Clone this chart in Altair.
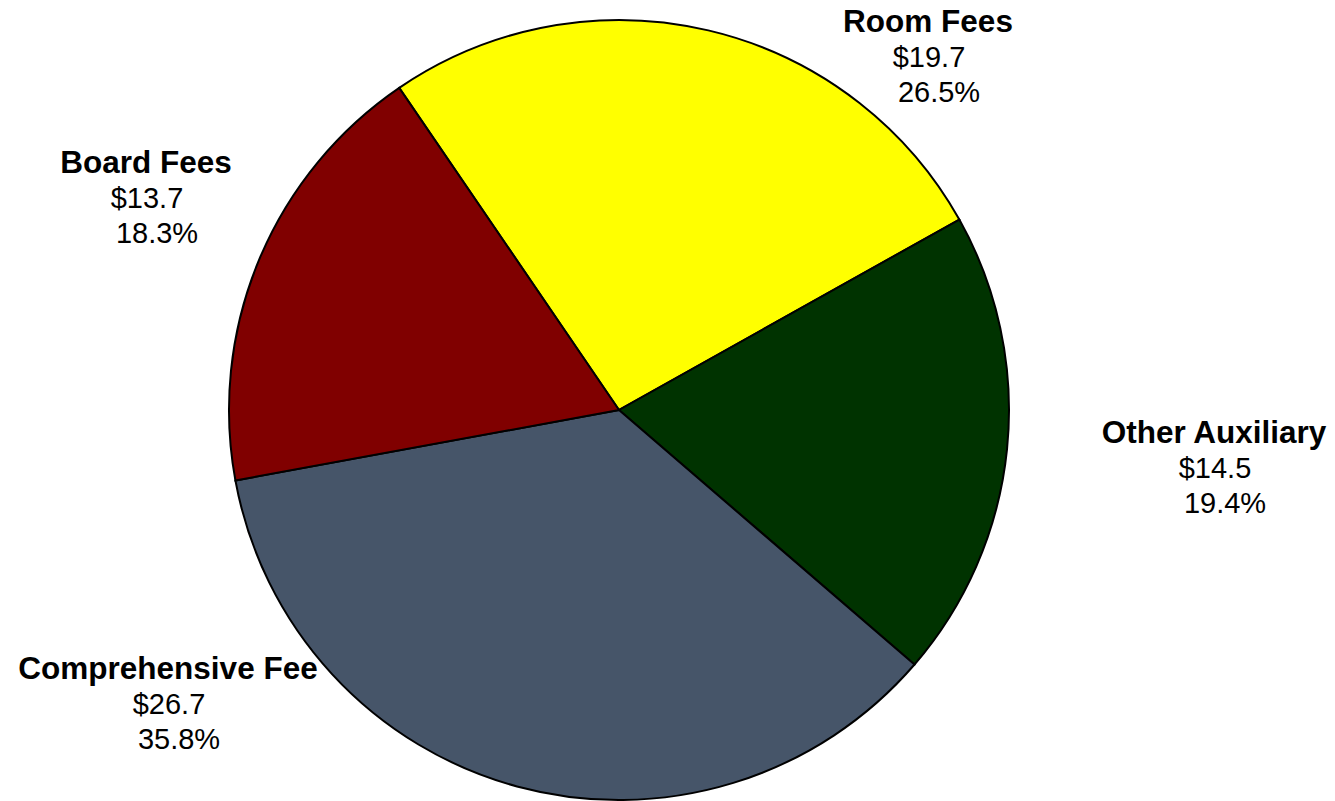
import math
import altair as alt
import pandas as pd

# ---- data ----
categories = ["Room Fees", "Other Auxiliary", "Comprehensive Fee", "Board Fees"]
amounts = [19.7, 14.5, 26.7, 13.7]
amount_labels = ["$19.7", "$14.5", "$26.7", "$13.7"]
percent_labels = ["26.5%", "19.4%", "35.8%", "18.3%"]
colors = ["#FFFF00", "#003300", "#465569", "#800000"]

# ---- layout (chart-local pixels) ----
W, H = 1319, 793
CX, CY, R = 611, 402, 390
START = math.radians(-34.3)
# label anchor: centre x, baseline of first line
label_anchor = {
    "Room Fees": (920, 24),
    "Other Auxiliary": (1206, 435),
    "Comprehensive Fee": (160, 671),
    "Board Fees": (138, 165),
}
LINE = 35
FONT = "Liberation Sans"

pie_df = pd.DataFrame({
    "category": categories,
    "amount": amounts,
    "idx": list(range(len(categories))),
})

name_rows, amt_rows, pct_rows = [], [], []
for c, a, p in zip(categories, amount_labels, percent_labels):
    lx, ly = label_anchor[c]
    name_rows.append({"category": c, "text": c, "lx": lx, "ly": ly})
    amt_rows.append({"category": c, "text": a, "lx": lx + 1, "ly": ly + LINE})
    pct_rows.append({"category": c, "text": p, "lx": lx + 1, "ly": ly + 2 * LINE})
names_df = pd.DataFrame(name_rows)
amt_df = pd.DataFrame(amt_rows)
pct_df = pd.DataFrame(pct_rows)

pie = alt.Chart(pie_df).mark_arc(
    outerRadius=R, stroke="black", strokeWidth=2, strokeJoin="miter"
).encode(
    theta=alt.Theta("amount:Q", stack=True,
                    scale=alt.Scale(range=[START, START + 2 * math.pi])),
    order=alt.Order("idx:Q"),
    color=alt.Color("category:N",
                    scale=alt.Scale(domain=categories, range=colors),
                    legend=None),
    x=alt.value(CX),
    y=alt.value(CY),
)


def text_layer(df, weight, size, dx=0):
    return alt.Chart(df).mark_text(
        font=FONT, fontSize=size, fontWeight=weight, color="black",
        align="center", baseline="alphabetic", dx=dx,
    ).encode(
        x=alt.X("lx:Q", scale=None),
        y=alt.Y("ly:Q", scale=None),
        text="text:N",
    )


names = text_layer(names_df, "bold", 31.5)
amts = text_layer(amt_df, "normal", 29)
pcts = text_layer(pct_df, "normal", 29, dx=10)

chart = alt.layer(pie, names, amts, pcts).properties(
    width=W, height=H, padding=0, background="white",
    autosize=alt.AutoSizeParams(type="none")
).configure_view(strokeWidth=0, stroke="transparent")

chart.save("out.html", embed_options={"renderer": "svg", "actions": False})
